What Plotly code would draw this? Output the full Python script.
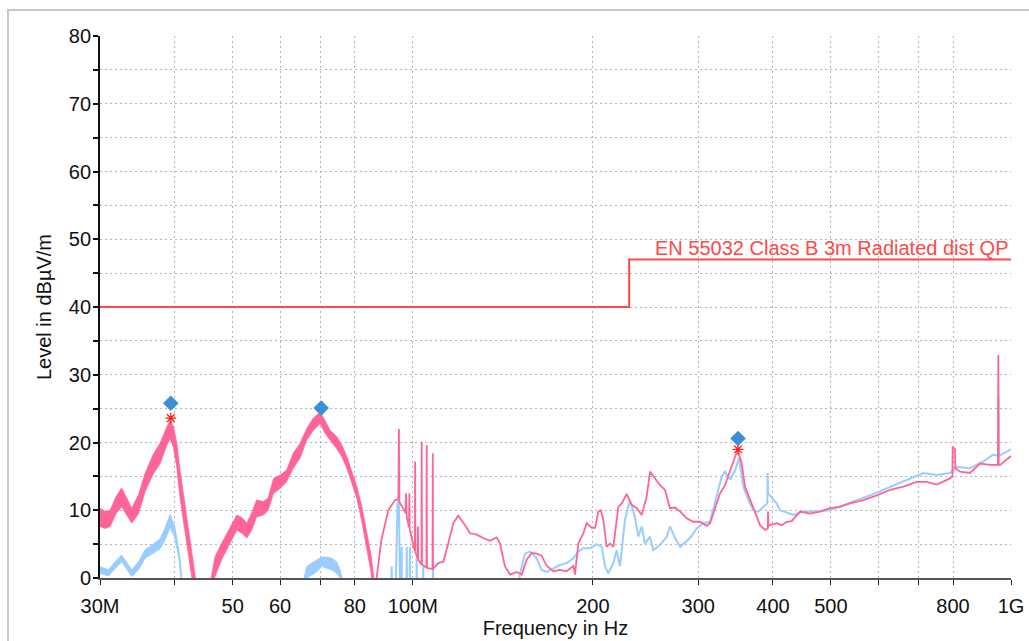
import plotly.graph_objects as go

# ---------------- data (frequencies in MHz, levels in dBuV/m) ----------------
limit_f = [30, 230, 230, 1000]
limit_v = [40, 40, 47, 47]
limit_name = "EN 55032 Class B 3m Radiated dist QP"

# noisy low-frequency part of the pink (vertical) trace: upper / lower envelope
pink_band1_f = [30.0, 30.6, 31.2, 31.9, 32.6, 33.2, 33.9, 34.8, 35.7, 36.8, 37.8, 38.8, 39.3, 39.8, 40.3, 40.8, 41.9, 43.0, 43.4]
pink_band1_hi = [10.3, 9.8, 10.0, 12.0, 13.3, 12.0, 10.3, 12.3, 15.5, 18.2, 19.9, 22.3, 23.3, 22.3, 20.0, 16.0, 9.0, 2.5, -0.5]
pink_band1_lo = [7.6, 7.3, 7.6, 9.5, 10.5, 9.3, 8.1, 9.5, 12.8, 15.3, 16.9, 19.6, 20.6, 19.3, 16.5, 12.0, 5.0, -1.5, -4.0]

pink_band2_f = [45.8, 46.3, 46.7, 47.9, 49.2, 50.8, 51.8, 52.8, 53.8, 54.8, 56.3, 57.3, 58.5, 60.0, 61.5, 63.1, 64.8, 66.5,
                68.2, 70.0, 71.3, 72.7, 74.6, 76.1, 77.6, 79.1, 80.6, 82.2, 83.8, 85.1, 86.2]
pink_band2_hi = [-1.0, 1.5, 3.1, 5.1, 7.1, 9.3, 8.9, 8.1, 9.6, 11.5, 11.3, 11.8, 14.7, 15.2, 15.9, 18.4, 19.9, 22.1,
                 23.6, 24.5, 23.3, 21.8, 20.9, 19.6, 17.9, 15.7, 13.5, 10.5, 6.6, 3.5, -0.5]
pink_band2_lo = [-3.0, -1.5, 0.2, 2.7, 4.6, 7.1, 6.6, 5.9, 7.1, 9.0, 9.3, 10.0, 12.5, 13.2, 14.2, 16.2, 17.7, 20.4,
                 21.8, 22.8, 21.4, 20.4, 19.1, 17.9, 16.2, 14.0, 11.8, 8.3, 4.3, 1.0, -3.0]

# noisy low-frequency parts of the blue (horizontal) trace
blue_band1_f = [30.0, 31.0, 31.8, 32.6, 33.2, 33.9, 34.8, 35.7, 36.8, 37.8, 38.5, 39.3, 40.0, 40.6, 41.1]
blue_band1_hi = [1.7, 1.2, 2.4, 3.4, 2.4, 1.2, 2.4, 4.2, 5.0, 5.8, 7.3, 9.4, 7.6, 4.5, 0.5]
blue_band1_lo = [0.7, 0.3, 1.4, 2.4, 1.4, 0.2, 1.2, 2.9, 3.6, 4.3, 5.5, 7.5, 6.0, 3.0, -1.0]

blue_band2_f = [65.6, 66.5, 67.8, 69.1, 70.4, 71.8, 73.2, 74.6, 75.6, 76.4]
blue_band2_hi = [-0.5, 1.7, 2.2, 2.7, 3.1, 3.1, 2.9, 2.4, 1.2, -0.5]
blue_band2_lo = [-2.0, 0.0, 0.5, 0.9, 1.7, 1.5, 1.2, 0.7, 0.0, -2.0]

# pink trace above 86 MHz
pink_f = [86.2, 87.0, 88.6, 91.0, 93.4, 94.6, 94.8, 95.0, 95.3, 97.3, 97.4, 97.5, 97.7, 98.6, 98.7, 98.8, 100.0,
          100.8, 100.9, 101.0, 101.9, 102.0, 102.1, 103.4, 103.5, 103.6, 105.4, 105.5, 105.6, 107.9, 108.0, 108.1,
          110.3, 112.5, 114.6, 116.9, 119.1, 122.3, 124.6, 127.9, 131.2, 134.6, 138.1, 139.9, 142.6, 145.4, 149.2,
          152.1, 155.0, 158.0, 161.1, 164.2, 167.4, 171.7, 176.0, 180.8, 185.5, 186.7, 189.1, 192.8, 195.3, 199.1,
          201.7, 204.2, 206.1, 208.2, 210.9, 213.6, 216.4, 220.6, 223.5, 227.8, 232.2, 236.8, 241.4, 246.0, 249.2,
          254.0, 259.0, 264.0, 269.1, 274.4, 280.0, 287.0, 294.4, 302.1, 310.0, 314.0, 320.0, 326.3, 332.6, 339.1,
          345.7, 349.3, 354.7, 359.2, 366.2, 373.3, 380.6, 388.0, 392.0, 392.5, 393.0, 395.5, 405.8, 413.7, 421.7,
          429.9, 444.0, 461.1, 479.1, 497.9, 517.4, 538.3, 566.4, 596.5, 627.8, 660.7, 695.7, 723.0, 751.5, 790.8,
          798.0, 799.0, 806.0, 807.0, 821.8, 854.0, 888.0, 922.0, 951.0, 952.5, 954.0, 959.0, 1000.0]
pink_v = [-2.0, 0.0, 5.6, 10.0, 11.5, 11.6, 22.0, 11.2, 11.0, 9.6, 12.5, 9.4, 9.0, 7.5, 12.5, 7.3, 5.2,
          4.0, 17.2, 3.8, 2.9, 7.6, 2.7, 2.0, 20.1, 2.0, 1.5, 19.6, 1.5, 1.3, 18.4, 1.3,
          2.2, 2.4, 5.1, 8.1, 9.2, 7.8, 6.6, 6.4, 5.9, 5.5, 6.0, 5.1, 1.7, 0.5, 0.9,
          0.5, 2.7, 3.7, 3.6, 3.3, 1.8, 1.0, 1.2, 1.0, 1.8, 0.5, 5.1, 6.6, 8.1, 7.4,
          7.4, 9.8, 10.0, 8.6, 4.6, 5.1, 4.6, 10.5, 11.0, 12.4, 10.8, 10.3, 9.3, 12.0, 15.7,
          14.7, 13.7, 13.0, 10.3, 10.4, 9.8, 8.8, 8.3, 8.3, 7.7, 8.1, 10.3, 12.5, 13.7, 15.9,
          17.9, 18.9, 16.9, 13.5, 11.5, 9.8, 7.8, 7.1, 7.3, 9.8, 7.6, 7.8, 8.1, 7.8, 8.3,
          8.4, 9.8, 9.5, 9.8, 10.3, 10.5, 11.0, 11.5, 12.2, 13.0, 13.5, 14.2, 14.2, 13.8, 14.7,
          15.0, 19.4, 19.0, 16.2, 15.7, 15.5, 16.9, 16.7, 16.7, 32.9, 16.7, 16.7, 18.0]

# blue trace above 85 MHz
blue_f = [85.0, 92.1, 92.2, 92.3, 93.6, 94.3, 94.8, 95.2, 95.7, 95.8, 95.9, 97.6, 97.7, 97.8, 98.8, 98.9, 99.0,
          101.4, 101.5, 101.6, 104.0, 104.1, 104.2, 108.0, 108.1, 108.2, 150.0, 151.0, 154.0, 157.0, 161.1, 164.2,
          167.4, 171.7, 176.0, 180.8, 185.5, 189.1, 192.8, 197.8, 203.0, 206.9, 209.6, 212.2, 216.4, 219.1, 222.0,
          226.3, 230.7, 235.2, 238.2, 241.4, 244.4, 249.2, 252.3, 259.0, 265.8, 269.1, 274.4, 280.0, 290.7, 298.3,
          305.8, 314.0, 322.1, 328.4, 332.6, 339.1, 345.7, 351.0, 356.9, 363.8, 370.9, 378.1, 385.4, 391.4, 392.0,
          392.6, 395.5, 405.8, 411.0, 416.3, 432.6, 449.6, 473.5, 497.9, 524.5, 552.2, 581.2, 611.7, 644.0, 677.8,
          713.4, 751.5, 790.8, 811.2, 854.0, 898.8, 934.2, 951.5, 952.5, 953.5, 1000.0]
blue_v = [-3.0, -3.0, 1.7, -3.0, -2.0, 11.0, 11.5, -2.0, -2.0, 4.6, -2.0, -2.0, 4.6, -2.0, -2.0, 4.6, -2.0,
          -2.0, 3.0, -2.0, -2.0, 1.7, -2.0, -2.0, 1.9, -2.0, -2.0, 0.5, 3.6, 3.9, 2.9, 1.2,
          0.9, 1.4, 1.9, 2.2, 2.9, 3.9, 4.4, 4.4, 5.0, 4.6, 1.7, 0.7, 2.2, 4.1, 1.7,
          8.6, 11.5, 9.0, 6.1, 7.6, 5.1, 6.1, 4.1, 4.9, 6.1, 7.6, 5.9, 4.6, 5.9, 7.3,
          8.1, 8.3, 12.0, 15.0, 15.7, 14.5, 15.9, 17.7, 13.5, 11.5, 10.0, 9.8, 10.5, 11.0, 15.5,
          12.5, 12.2, 11.0, 10.0, 9.8, 9.3, 9.8, 9.8, 10.0, 10.8, 11.5, 12.2, 13.0, 13.8, 14.7,
          15.5, 15.2, 15.5, 16.4, 16.2, 17.2, 18.2, 18.0, 26.6, 18.0, 19.0]

# final peak markers
peak_f = [39.4, 70.3, 349.7]
peak_v = [25.8, 25.1, 20.6]
qp_f = [39.4, 349.7]
qp_v = [23.6, 19.0]

# axis ticks
x_tickvals = [30, 40, 50, 60, 70, 80, 100, 200, 300, 400, 500, 600, 700, 800, 1000]
x_ticktext = ["30M", "", "50", "60", "", "80", "100M", "200", "300", "400", "500", "", "", "800", "1G"]
y_tickvals = [0, 10, 20, 30, 40, 50, 60, 70, 80]
y_minor_vals = [5, 15, 25, 35, 45, 55, 65, 75]

# ---------------- styles ----------------
PINK = "#ff6496"
BLUE = "#99ccff"
LIMIT = "#ff4848"
FONT = "Liberation Sans, Arial, sans-serif"

fig = go.Figure()


def band(f, hi, lo, color, name):
    fig.add_trace(go.Scatter(
        x=list(f) + list(f)[::-1], y=list(hi) + list(lo)[::-1],
        mode="lines", fill="toself", fillcolor=color,
        line=dict(color=color, width=0.8), hoverinfo="skip", showlegend=False, name=name))


# blue (horizontal) first, pink on top
band(blue_band1_f, blue_band1_hi, blue_band1_lo, BLUE, "blue1")
band(blue_band2_f, blue_band2_hi, blue_band2_lo, BLUE, "blue2")
fig.add_trace(go.Scatter(x=blue_f, y=blue_v, mode="lines", line=dict(color=BLUE, width=2),
                         hoverinfo="skip", showlegend=False))
band(pink_band1_f, pink_band1_hi, pink_band1_lo, PINK, "pink1")
band(pink_band2_f, pink_band2_hi, pink_band2_lo, PINK, "pink2")
fig.add_trace(go.Scatter(x=pink_f, y=pink_v, mode="lines", line=dict(color=PINK, width=1.8),
                         hoverinfo="skip", showlegend=False))

# limit line
fig.add_trace(go.Scatter(x=limit_f, y=limit_v, mode="lines", line=dict(color=LIMIT, width=2),
                         hoverinfo="skip", showlegend=False))

# markers
fig.add_trace(go.Scatter(x=qp_f, y=qp_v, mode="markers",
                         marker=dict(symbol="asterisk", size=9, color="#ff1a1a",
                                     line=dict(color="#ff1a1a", width=1.3)),
                         hoverinfo="skip", showlegend=False, cliponaxis=False))
fig.add_trace(go.Scatter(x=peak_f, y=peak_v, mode="markers",
                         marker=dict(symbol="diamond", size=12, color="#3a8fd6", line=dict(width=0)),
                         hoverinfo="skip", showlegend=False, cliponaxis=False))

fig.add_annotation(text=limit_name, xref="paper", x=1, xanchor="right", yref="y", y=limit_v[-1],
                   yanchor="bottom", yshift=-1, showarrow=False,
                   font=dict(family=FONT, size=20, color=LIMIT))

# outer light frame
fig.add_shape(type="rect", xref="paper", yref="paper", x0=-0.101, x1=1.2, y0=-0.3, y1=1.048,
              line=dict(color="#c8c8c8", width=2), fillcolor="rgba(0,0,0,0)", layer="below")

GRID = "#b4b4b4"
GDASH = "2px,3px"
fig.update_layout(
    width=1029, height=641,
    margin=dict(l=100, r=18, t=36, b=63, autoexpand=False),
    paper_bgcolor="white", plot_bgcolor="white",
    font=dict(family=FONT, size=20, color="#111111"),
    showlegend=False,
    xaxis=dict(
        type="log", range=[1.4771213, 3.0], automargin=False,
        tickmode="array", tickvals=x_tickvals, ticktext=x_ticktext,
        ticks="outside", ticklen=5, tickwidth=1.3, tickcolor="#222222",
        ticklabelstandoff=4,
        showline=True, linecolor="#555555", linewidth=2,
        showgrid=True, gridcolor=GRID, griddash=GDASH, gridwidth=1,
        zeroline=False,
        title=dict(text="Frequency in Hz", standoff=5, font=dict(size=20)),
    ),
    yaxis=dict(
        range=[0, 80], tickmode="array", tickvals=y_tickvals, automargin=False,
        ticks="outside", ticklen=5, tickwidth=1.5, tickcolor="#111111",
        ticklabelstandoff=-2,
        showline=True, linecolor="#111111", linewidth=1.8,
        showgrid=True, gridcolor=GRID, griddash=GDASH, gridwidth=1,
        minor=dict(tickvals=y_minor_vals, ticks="outside", ticklen=5, tickwidth=1.5,
                   tickcolor="#111111", showgrid=True, gridcolor=GRID, griddash=GDASH, gridwidth=1),
        zeroline=False,
        title=dict(text="Level in dBµV/m", standoff=12, font=dict(size=20)),
    ),
)

# remove the browser's default page margin so the figure fills the window exactly
fig.write_html("out.html", config={"displayModeBar": False},
               post_script="document.body.style.margin='0px';document.body.style.overflow='hidden';")
